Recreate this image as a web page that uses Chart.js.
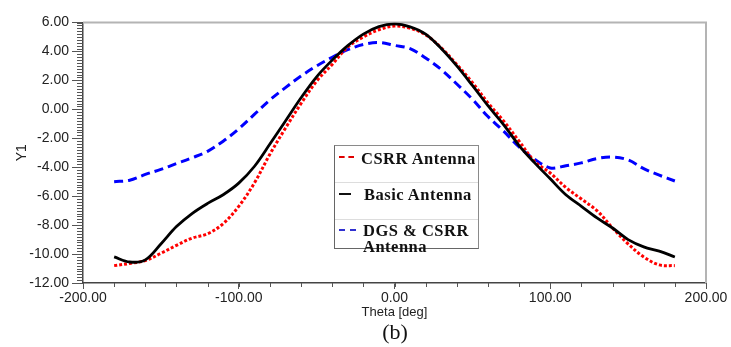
<!DOCTYPE html>
<html>
<head>
<meta charset="utf-8">
<script src="https://cdn.jsdelivr.net/npm/chart.js@4.4.1/dist/chart.umd.min.js"></script>
<style>
    body { margin: 0; background: #fff; }
    #wrap { position: relative; width: 731px; height: 347px; }
    #legendBox {
        position: absolute; left: 334px; top: 145px; width: 143px; height: 102px;
        border: 1px solid #8a8a8a; border-left-color: #666; border-bottom-color: #666; background: #fff;
        font-family: "Liberation Serif", "Times New Roman", serif; font-weight: bold;
        font-size: 16.5px; letter-spacing: 0.5px; color: #111;
    }
    .sep { position: absolute; left: 0; width: 143px; border-top: 1px solid #ddd; }
    .swatch { position: absolute; left: 4px; width: 15px; height: 0; }
    .txt { position: absolute; white-space: nowrap; line-height: 16px; }
    #caption {
        position: absolute; left: 0; width: 790px; top: 319px; text-align: center;
        font-family: "Liberation Serif", "Times New Roman", serif; font-size: 22px; color: #111;
    }
</style>
</head>
<body>
<div id="wrap">
    <canvas id="patternChart" width="731" height="347"></canvas>
    <div id="legendBox">
        <div class="swatch" style="top:10px; border-top:2px dashed #e00000;"></div>
        <div class="txt" style="left:26px; top:5px;">CSRR Antenna</div>
        <div class="sep" style="top:36px;"></div>
        <div class="swatch" style="top:47px; width:12px; border-top:2px solid #111;"></div>
        <div class="txt" style="left:29px; top:41px;">Basic Antenna</div>
        <div class="sep" style="top:73px;"></div>
        <div class="swatch" style="top:83px; width:17px; border-top:2px dashed #3030d0;"></div>
        <div class="txt" style="left:28px; top:77px;">DGS &amp; CSRR<br>Antenna</div>
    </div>
    <div id="caption">(b)</div>
</div>
<script>
// Angles (deg)
const theta = [-180, -170, -160, -150, -140, -130, -120, -110, -100, -90, -80, -70, -60, -50, -40, -30, -20, -10,
    0, 10, 20, 30, 40, 50, 60, 70, 80, 90, 100, 110, 120, 130, 140, 150, 160, 170, 180];

// Gain values (Y1)
const csrrAntenna = [-10.8, -10.65, -10.45, -9.95, -9.4, -8.9, -8.6, -7.9, -6.7, -5.1, -3.1, -1.3, 0.4, 1.95, 3.1, 4.3, 5.0, 5.5,
    5.75, 5.6, 5.15, 4.25, 3.1, 1.85, 0.45, -0.8, -2.2, -3.6, -4.4, -5.4, -6.2, -7.0, -8.2, -9.3, -10.2, -10.75, -10.8];

const basicAntenna = [-10.2, -10.55, -10.4, -9.3, -8.1, -7.2, -6.5, -5.9, -5.1, -3.95, -2.4, -0.8, 0.8, 2.25, 3.4, 4.4, 5.2, 5.72,
    5.9, 5.7, 5.2, 4.2, 3.0, 1.65, 0.25, -1.05, -2.5, -3.7, -4.8, -5.9, -6.7, -7.5, -8.2, -9.0, -9.5, -9.8, -10.2];

const dgsCsrrAntenna = [-5.0, -4.9, -4.5, -4.15, -3.75, -3.35, -2.9, -2.2, -1.35, -0.35, 0.65, 1.5, 2.3, 3.0, 3.6, 4.12, 4.48, 4.62,
    4.42, 4.2, 3.55, 2.75, 1.75, 0.7, -0.5, -1.5, -2.6, -3.45, -4.05, -3.9, -3.7, -3.4, -3.3, -3.5, -4.1, -4.55, -4.95];

const toPoints = (vals) => theta.map((t, i) => ({ x: t, y: vals[i] }));

// Plot frame (top/right) and minor ticks
const framePlugin = {
    id: 'framePlugin',
    beforeDatasetsDraw(chart) {
        const { ctx, chartArea: a, scales: { x, y } } = chart;
        ctx.save();
        ctx.strokeStyle = '#b4b4b4';
        ctx.lineWidth = 2;
        ctx.beginPath();
        ctx.moveTo(a.left, a.top);
        ctx.lineTo(a.right, a.top);
        ctx.lineTo(a.right, a.bottom);
        ctx.stroke();

        ctx.strokeStyle = '#555';
        ctx.lineWidth = 1;
        ctx.beginPath();
        for (let i = 0; i <= 90; i++) {
            const py = Math.round(y.getPixelForValue(-12 + i * 0.2)) + 0.5;
            ctx.moveTo(a.left - 6, py);
            ctx.lineTo(a.left, py);
        }
        for (let i = 0; i <= 20; i++) {
            const px = Math.round(x.getPixelForValue(-200 + i * 20)) + 0.5;
            ctx.moveTo(px, a.bottom);
            ctx.lineTo(px, a.bottom + 4);
        }
        ctx.stroke();
        ctx.restore();
    }
};

const ctx = document.getElementById('patternChart').getContext('2d');

new Chart(ctx, {
    type: 'line',
    data: {
        datasets: [
            {
                label: 'Basic Antenna',
                data: toPoints(basicAntenna),
                borderColor: '#000000',
                borderWidth: 2.8,
                pointRadius: 0,
                tension: 0.35,
                order: 0
            },
            {
                label: 'CSRR Antenna',
                data: toPoints(csrrAntenna),
                borderColor: '#ff0000',
                borderWidth: 3,
                borderDash: [3, 2],
                pointRadius: 0,
                tension: 0.35,
                order: 1
            },
            {
                label: 'DGS & CSRR Antenna',
                data: toPoints(dgsCsrrAntenna),
                borderColor: '#0000ff',
                borderWidth: 3,
                borderDash: [9, 5],
                pointRadius: 0,
                tension: 0.35,
                order: 2
            }
        ]
    },
    options: {
        responsive: false,
        animation: false,
        devicePixelRatio: 1,
        layout: { padding: { left: 0, right: 25, top: 22.5, bottom: 27 } },
        plugins: {
            legend: { display: false },
            tooltip: { enabled: false }
        },
        scales: {
            x: {
                type: 'linear',
                min: -200,
                max: 200,
                afterFit: (scale) => { scale.height = 37; },
                grid: { drawOnChartArea: false, tickLength: 6, color: '#555' },
                border: { color: '#444', width: 1.5 },
                ticks: {
                    stepSize: 100,
                    padding: 1,
                    color: '#222',
                    font: { family: 'Liberation Sans', size: 14 },
                    callback: (v) => v.toFixed(2)
                },
                title: {
                    display: true,
                    text: 'Theta [deg]',
                    color: '#222',
                    font: { family: 'Liberation Sans', size: 13 },
                    padding: 0
                }
            },
            y: {
                type: 'linear',
                min: -12,
                max: 6,
                afterFit: (scale) => { scale.width = 83; },
                grid: { drawOnChartArea: false, tickLength: 11, color: '#555' },
                border: { color: '#444', width: 1.5 },
                ticks: {
                    stepSize: 2,
                    padding: 3,
                    color: '#222',
                    font: { family: 'Liberation Sans', size: 14 },
                    callback: (v) => v.toFixed(2)
                },
                title: {
                    display: true,
                    text: 'Y1',
                    color: '#222',
                    font: { family: 'Liberation Sans', size: 14 },
                    padding: { top: 14 }
                }
            }
        }
    },
    plugins: [framePlugin]
});
</script>
</body>
</html>
